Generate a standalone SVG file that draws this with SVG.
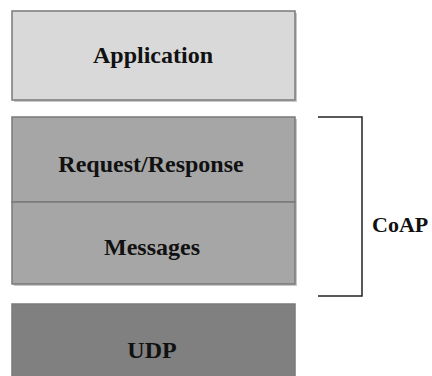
<svg xmlns="http://www.w3.org/2000/svg" width="432" height="376" viewBox="0 0 432 376">
<style>
.lbl{font-family:"Liberation Serif","Times New Roman",serif;font-weight:bold;font-size:24px;fill:#111;text-anchor:middle}
.shadow{fill:#c8c8c8}
.box{stroke:#7a7a7a;stroke-width:1.5}
.br{fill:none;stroke:#222;stroke-width:1.5}
</style>
<rect width="432" height="376" fill="#fff"/>
<g id="application">
<rect class="shadow" x="14" y="13" width="283" height="89"/>
<rect class="box" x="12" y="11" width="283" height="89" fill="#d9d9d9"/>
<text class="lbl" x="153" y="63">Application</text>
</g>
<g id="coap-stack">
<rect class="shadow" x="14" y="119" width="283" height="167"/>
</g>
<g id="request-response">
<rect class="box" x="12" y="117" width="283" height="85" fill="#a6a6a6"/>
<text class="lbl" x="151" y="172">Request/Response</text>
</g>
<g id="messages">
<rect class="box" x="12" y="202" width="283" height="82" fill="#a6a6a6"/>
<text class="lbl" x="152" y="255">Messages</text>
</g>
<g id="udp">
<rect class="box" x="12" y="304" width="283" height="80" fill="#808080" stroke="#3a3a3a"/>
<text class="lbl" x="152" y="358">UDP</text>
</g>
<g id="connectors">
<polyline class="br" points="318,117 362,117 362,296 318,296"/>
</g>
<g id="coap">
<text class="lbl" x="372" y="232" style="text-anchor:start;font-size:22px">CoAP</text>
</g>
</svg>
